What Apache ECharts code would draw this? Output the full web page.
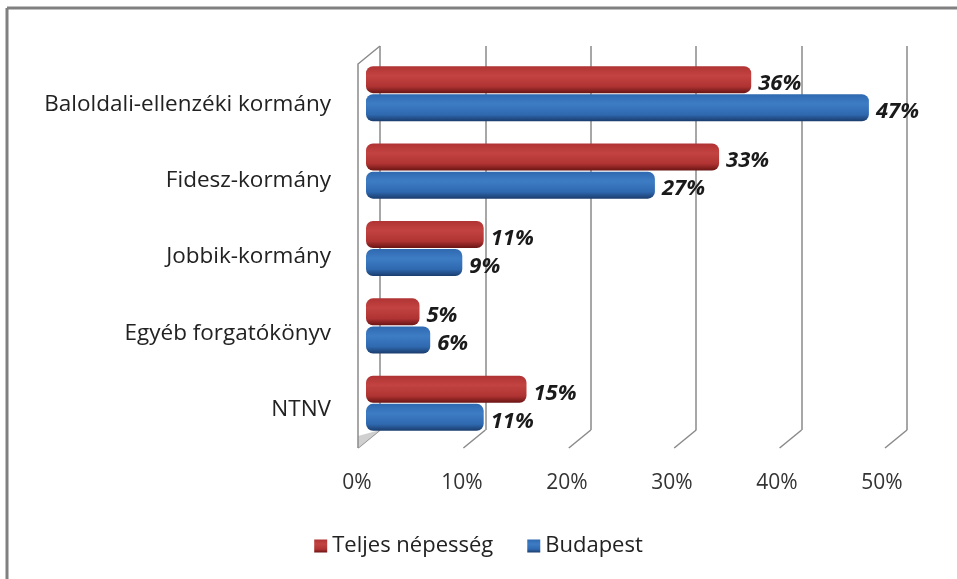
<!DOCTYPE html>
<html>
<head>
<meta charset="utf-8">
<script src="https://cdn.jsdelivr.net/npm/echarts@6/dist/echarts.min.js"></script>
<style>
  html, body { margin: 0; padding: 0; background: #fff; }
  #chart { width: 957px; height: 579px; }
</style>
</head>
<body>
<div id="chart"></div>
<script>
// adatok
const categories = ['Baloldali-ellenzéki kormány', 'Fidesz-kormány', 'Jobbik-kormány', 'Egyéb forgatókönyv', 'NTNV']
const teljesNepesseg = [36, 33, 11, 5, 15]
const budapest = [47, 27, 9, 6, 11]
const ticks = [0, 10, 20, 30, 40, 50]
const seriesNames = ['Teljes népesség', 'Budapest']

const font = '"Open Sans", Lato, sans-serif'
const gridColor = '#8a8a8a'
// 3D mélység eltolás (hátsó fal -> elülső sík)
const depthX = -22
const depthY = 18

const chart = echarts.init(document.getElementById('chart'))

function cylinder(light, mid, dark) {
  return new echarts.graphic.LinearGradient(0, 0, 0, 1, [
    { offset: 0, color: mid },
    { offset: 0.35, color: light },
    { offset: 0.75, color: mid },
    { offset: 1, color: dark }
  ])
}

const valueLabel = {
  show: true,
  position: 'right',
  distance: 7,
  offset: [0, 4],
  formatter: '{c}%',
  color: '#1a1a1a',
  fontSize: 22,
  fontWeight: 'bold',
  fontStyle: 'italic',
  fontFamily: font
}

const option = {
  animation: false,
  textStyle: { fontFamily: font },
  legend: {
    data: seriesNames,
    bottom: 17,
    left: 'center',
    itemWidth: 13,
    itemHeight: 13,
    itemGap: 34,
    icon: 'rect',
    textStyle: { fontSize: 22, color: '#222', fontFamily: font }
  },
  graphic: [
    { type: 'line', shape: { x1: 7, y1: 8, x2: 957, y2: 8 }, style: { stroke: '#808080', lineWidth: 3 }, silent: true },
    { type: 'line', shape: { x1: 7, y1: 8, x2: 7, y2: 579 }, style: { stroke: '#808080', lineWidth: 3 }, silent: true }
  ],
  grid: [
    // oszlopok
    { left: 366, width: 535, top: 55, height: 387 },
    // elülső sík: tengelyfeliratok
    { left: 357, width: 525, top: 66, height: 382 },
    // hátsó fal: rácsvonalak
    { left: 380, width: 527, top: 46, height: 384 }
  ],
  xAxis: [
    { gridIndex: 0, type: 'value', min: 0, max: 50, show: false },
    {
      gridIndex: 1, type: 'value', min: 0, max: 50, interval: 10,
      axisLine: { show: false }, axisTick: { show: false }, splitLine: { show: false },
      axisLabel: { margin: 25, fontSize: 21, color: '#333', fontFamily: font, formatter: '{value}%' }
    },
    {
      gridIndex: 2, type: 'value', min: 0, max: 50, interval: 10,
      axisLine: { show: false }, axisTick: { show: false }, axisLabel: { show: false },
      splitLine: { show: true, lineStyle: { color: gridColor, width: 1.5 } }
    }
  ],
  yAxis: [
    { gridIndex: 0, type: 'category', data: categories, inverse: true, show: false },
    {
      gridIndex: 1, type: 'category', data: categories, inverse: true,
      axisLine: { show: false }, axisTick: { show: false },
      axisLabel: { margin: 26, fontSize: 22.5, color: '#222', fontFamily: font }
    },
    { gridIndex: 2, type: 'category', data: categories, inverse: true, show: false }
  ],
  series: [
    {
      name: seriesNames[0],
      type: 'bar',
      xAxisIndex: 0, yAxisIndex: 0,
      data: teljesNepesseg,
      barWidth: 27,
      barGap: '4%',
      barCategoryGap: '28%',
      itemStyle: {
        color: cylinder('#c24341', '#b03333', '#6a1414'),
        borderRadius: [7, 7, 7, 7]
      },
      label: valueLabel
    },
    {
      name: seriesNames[1],
      type: 'bar',
      xAxisIndex: 0, yAxisIndex: 0,
      data: budapest,
      barWidth: 27,
      itemStyle: {
        color: cylinder('#3d7cc4', '#2f69b0', '#1a3c6c'),
        borderRadius: [7, 7, 7, 7]
      },
      label: valueLabel
    },
    {
      // padló ferde vonalai és a bal oldalfal
      type: 'custom',
      xAxisIndex: 2, yAxisIndex: 2,
      silent: true,
      data: ticks.map(t => [t]),
      renderItem: function (params, api) {
        const rect = params.coordSys
        const x = api.coord([api.value(0), 0])[0]
        const yb = rect.y + rect.height
        const children = [{
          type: 'line',
          shape: { x1: x, y1: yb, x2: x + depthX, y2: yb + depthY },
          style: { stroke: gridColor, lineWidth: 1.5 }
        }]
        if (params.dataIndex === 0) {
          children.push({
            type: 'polygon',
            shape: { points: [[x, yb], [x + depthX, yb + depthY], [x + depthX, yb + depthY - 12]] },
            style: { fill: '#d0d0d0' }
          })
          children.push({
            type: 'polyline',
            shape: { points: [[x + depthX, yb + depthY], [x + depthX, rect.y + depthY], [x, rect.y]] },
            style: { stroke: gridColor, lineWidth: 1.5, fill: null }
          })
        }
        return { type: 'group', children: children }
      }
    }
  ]
}

chart.setOption(option)
</script>
</body>
</html>
